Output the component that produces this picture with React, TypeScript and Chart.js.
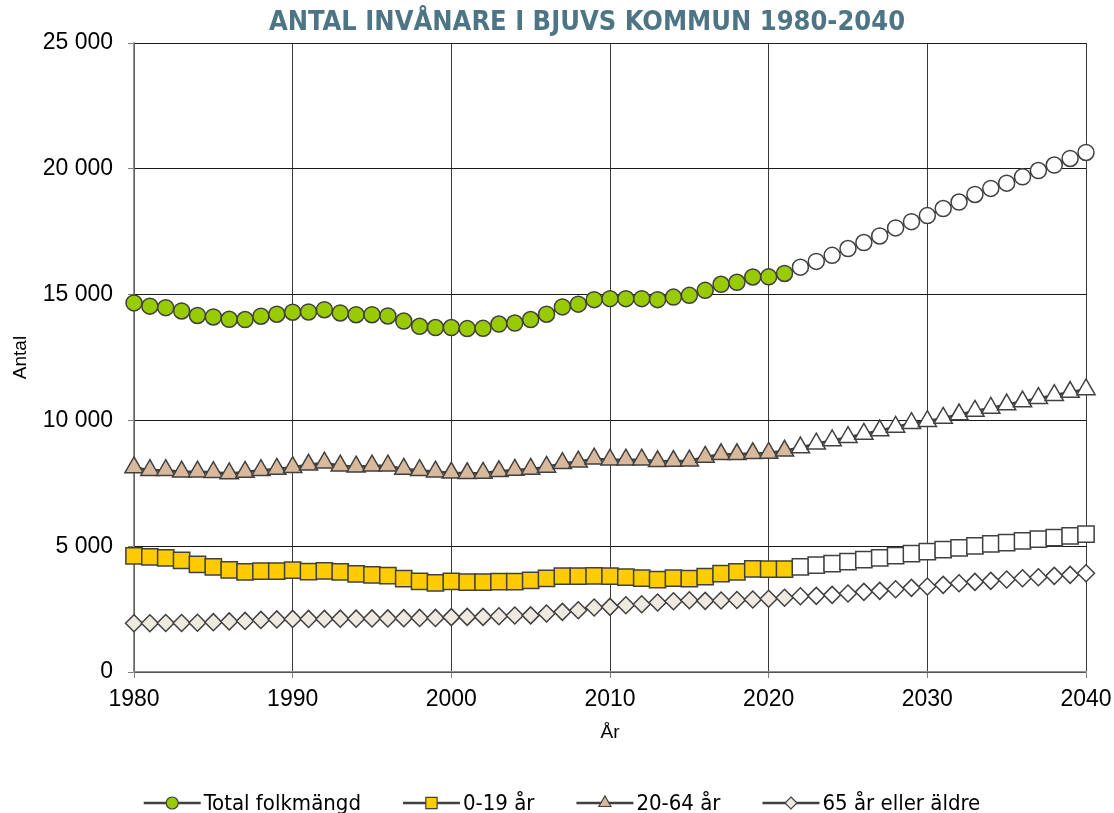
import React, { useEffect, useRef } from 'react';
import { Chart, registerables } from 'chart.js';

Chart.register(...registerables);

// ---------- data ----------
const chartTitle = 'ANTAL INVÅNARE I BJUVS KOMMUN 1980-2040';
const xAxisTitle = 'År';
const yAxisTitle = 'Antal';
const lastObservedYear = 2021;

const years = [
  1980, 1981, 1982, 1983, 1984, 1985, 1986, 1987, 1988, 1989,
  1990, 1991, 1992, 1993, 1994, 1995, 1996, 1997, 1998, 1999,
  2000, 2001, 2002, 2003, 2004, 2005, 2006, 2007, 2008, 2009,
  2010, 2011, 2012, 2013, 2014, 2015, 2016, 2017, 2018, 2019,
  2020, 2021, 2022, 2023, 2024, 2025, 2026, 2027, 2028, 2029,
  2030, 2031, 2032, 2033, 2034, 2035, 2036, 2037, 2038, 2039,
  2040,
];

const totalPop = [
  14670, 14540, 14480, 14350, 14170, 14110, 14020, 14010, 14140, 14220,
  14300, 14310, 14400, 14270, 14200, 14200, 14150, 13950, 13740, 13690,
  13690, 13650, 13660, 13830, 13870, 14010, 14220, 14510, 14620, 14800,
  14840, 14840, 14840, 14800, 14900, 14970, 15170, 15410, 15490, 15700,
  15705, 15840, 16090, 16320, 16560, 16830, 17070, 17330, 17650, 17900,
  18140, 18420, 18680, 18980, 19220, 19430, 19680, 19930, 20150, 20410,
  20650,
];

const age0to19 = [
  4620, 4580, 4540, 4440, 4280, 4180, 4060, 3980, 4010, 4010,
  4050, 3990, 4020, 3980, 3900, 3860, 3830, 3715, 3600, 3545,
  3600, 3576, 3576, 3590, 3590, 3640, 3720, 3808, 3808, 3820,
  3808, 3768, 3728, 3670, 3728, 3715, 3794, 3914, 3980, 4099,
  4085, 4090, 4175, 4245, 4311, 4390, 4470, 4536, 4629, 4709,
  4788, 4868, 4934, 5013, 5093, 5146, 5212, 5278, 5345, 5411,
  5484,
];

const age20to64 = [
  8130, 8020, 8020, 7960, 7960, 7940, 7890, 7950, 8020, 8070,
  8140, 8235, 8320, 8200, 8160, 8200, 8200, 8070, 8020, 7960,
  7915, 7897, 7910, 7977, 8030, 8069, 8149, 8300, 8360, 8480,
  8440, 8440, 8440, 8374, 8386, 8400, 8546, 8653, 8653, 8693,
  8705, 8790, 8920, 9072, 9205, 9331, 9463, 9596, 9742, 9887,
  9967, 10099, 10232, 10378, 10497, 10629, 10749, 10881, 11000, 11126,
  11232,
];

const age65plus = [
  1940, 1940, 1950, 1950, 1960, 1980, 2010, 2030, 2070, 2090,
  2110, 2110, 2110, 2120, 2120, 2130, 2130, 2140, 2150, 2150,
  2180, 2190, 2190, 2218, 2244, 2250, 2324, 2390, 2456, 2562,
  2589, 2655, 2695, 2761, 2814, 2854, 2827, 2840, 2860, 2880,
  2910, 2950, 3010, 3026, 3066, 3119, 3185, 3225, 3291, 3344,
  3397, 3463, 3529, 3582, 3622, 3675, 3728, 3768, 3821, 3861,
  3927,
];

const seriesLabels = ['Total folkmängd', '0-19 år', '20-64 år', '65 år eller äldre'];
const xTickValues = [1980, 1990, 2000, 2010, 2020, 2030, 2040];
const yTickValues = [0, 5000, 10000, 15000, 20000, 25000];

// ---------- styles ----------
const W = 1114;
const H = 813;
const FONT = '"Liberation Sans", Arial, sans-serif';
const FONT_NARROW = '"Liberation Sans Narrow", "Arial Narrow", "DejaVu Sans Condensed", "Liberation Sans", sans-serif';
const LINE_COLOR = '#404040';
const FORECAST_FILL = '#ffffff';

const seriesStyles = [
  { fill: '#99cc00', pointStyle: 'circle', radius: 8, legendRadius: 6 },
  { fill: '#ffcc00', pointStyle: 'rect', radius: 11.5, legendRadius: 8 },
  { fill: '#d9b99b', pointStyle: 'triangle', radius: 10.5, legendRadius: 7 },
  { fill: '#eeeae0', pointStyle: 'rectRot', radius: 8.5, legendRadius: 6 },
];

function drawMarker(ctx: CanvasRenderingContext2D, style: string, x: number, y: number, r: number) {
  ctx.beginPath();
  if (style === 'circle') {
    ctx.arc(x, y, r, 0, Math.PI * 2);
  } else if (style === 'rect') {
    const s = Math.SQRT1_2 * r;
    ctx.rect(x - s, y - s, 2 * s, 2 * s);
  } else if (style === 'triangle') {
    ctx.moveTo(x, y - r);
    ctx.lineTo(x + Math.sin((2 * Math.PI) / 3) * r, y + r / 2);
    ctx.lineTo(x - Math.sin((2 * Math.PI) / 3) * r, y + r / 2);
    ctx.closePath();
  } else {
    ctx.moveTo(x, y - r);
    ctx.lineTo(x + r, y);
    ctx.lineTo(x, y + r);
    ctx.lineTo(x - r, y);
    ctx.closePath();
  }
  ctx.fill();
  ctx.stroke();
}

const titlePlugin = {
  id: 'customTitle',
  afterDraw(chart: any) {
    const ctx: CanvasRenderingContext2D = chart.ctx;
    ctx.save();
    ctx.font = `bold 27px ${FONT_NARROW}`;
    ctx.fillStyle = '#4e7585';
    ctx.textAlign = 'center';
    ctx.textBaseline = 'middle';
    ctx.fillText(chartTitle, 587, 23);
    ctx.restore();
  },
};

const legendPlugin = {
  id: 'customLegend',
  afterDraw(chart: any) {
    const ctx: CanvasRenderingContext2D = chart.ctx;
    const datasets = chart.data.datasets;
    ctx.save();
    ctx.font = `22px ${FONT_NARROW}`;
    const lineLen = 57;
    const gapText = 3;
    const gapItem = 42;
    const widths = datasets.map((d: any) => ctx.measureText(d.label).width);
    const totalW =
      widths.reduce((a: number, w: number) => a + lineLen + gapText + w, 0) + gapItem * (datasets.length - 1);
    let x = 562 - totalW / 2;
    const y = 803;
    datasets.forEach((d: any, i: number) => {
      const st = seriesStyles[i];
      ctx.strokeStyle = LINE_COLOR;
      ctx.lineWidth = 2.5;
      ctx.beginPath();
      ctx.moveTo(x, y);
      ctx.lineTo(x + lineLen, y);
      ctx.stroke();
      ctx.lineWidth = 1.2;
      ctx.fillStyle = st.fill;
      drawMarker(ctx, st.pointStyle, x + lineLen / 2, y, st.legendRadius);
      ctx.fillStyle = '#000';
      ctx.textAlign = 'left';
      ctx.textBaseline = 'middle';
      ctx.fillText(d.label, x + lineLen + gapText, y + 1);
      x += lineLen + gapText + widths[i] + gapItem;
    });
    ctx.restore();
  },
};

function formatThousands(v: number) {
  return String(v).replace(/\B(?=(\d{3})+(?!\d))/g, ' ');
}

export default function App() {
  const canvasRef = useRef<HTMLCanvasElement | null>(null);

  useEffect(() => {
    if (!canvasRef.current) return;
    const seriesValues = [totalPop, age0to19, age20to64, age65plus];
    const datasets = seriesValues.map((vals, i) => {
      const st = seriesStyles[i];
      return {
        label: seriesLabels[i],
        data: years.map((yr, j) => ({ x: yr, y: vals[j] })),
        borderColor: LINE_COLOR,
        borderWidth: 2.5,
        pointStyle: st.pointStyle,
        pointRadius: st.radius,
        pointHoverRadius: st.radius,
        pointBorderColor: LINE_COLOR,
        pointBorderWidth: 1.5,
        pointBackgroundColor: years.map((yr) => (yr <= lastObservedYear ? st.fill : FORECAST_FILL)),
        tension: 0,
        fill: false,
        clip: false as any,
      };
    });

    const chart = new Chart(canvasRef.current, {
      type: 'line',
      data: { datasets },
      plugins: [titlePlugin, legendPlugin],
      options: {
        animation: false,
        responsive: false,
        maintainAspectRatio: false,
        layout: { padding: { left: 0, right: 28, top: 43, bottom: 0 } },
        plugins: {
          legend: { display: false },
          title: { display: false },
          tooltip: { enabled: false },
        },
        scales: {
          x: {
            type: 'linear',
            min: 1980,
            max: 2040,
            afterBuildTicks: (scale: any) => {
              scale.ticks = xTickValues.map((v) => ({ value: v }));
            },
            ticks: {
              color: '#000',
              font: { family: FONT, size: 23 },
              padding: 8,
              maxRotation: 0,
              callback: (v: any) => String(v),
            },
            grid: { color: '#3a3a3a', lineWidth: 1, tickLength: 6, tickColor: '#808080' },
            border: { color: '#909090', width: 1.5 },
            title: {
              display: true,
              text: xAxisTitle,
              color: '#000',
              font: { family: FONT, size: 19 },
              padding: { top: 0, bottom: 69 },
            },
            afterFit: (scale: any) => {
              scale.height = 141;
              scale.paddingLeft = 0;
              scale.paddingRight = 0;
            },
          },
          y: {
            type: 'linear',
            min: 0,
            max: 25000,
            afterBuildTicks: (scale: any) => {
              scale.ticks = yTickValues.map((v) => ({ value: v }));
            },
            ticks: {
              color: '#000',
              font: { family: FONT, size: 23 },
              padding: 15,
              callback: (v: any) => formatThousands(Number(v)),
            },
            grid: { color: '#1a1a1a', lineWidth: 1, tickLength: 6, tickColor: '#808080' },
            border: { color: '#909090', width: 1.5 },
            title: {
              display: true,
              text: yAxisTitle,
              color: '#000',
              font: { family: FONT, size: 19 },
              padding: { top: 9, bottom: 0 },
            },
            afterFit: (scale: any) => {
              scale.width = 134;
              scale.paddingTop = 0;
              scale.paddingBottom = 0;
            },
          },
        },
      } as any,
    });
    return () => chart.destroy();
  }, []);

  return (
    <div style={{ position: 'absolute', left: 0, top: 0, width: W, height: H, background: '#fff' }}>
      <canvas ref={canvasRef} width={W} height={H} style={{ display: 'block' }} />
    </div>
  );
}
